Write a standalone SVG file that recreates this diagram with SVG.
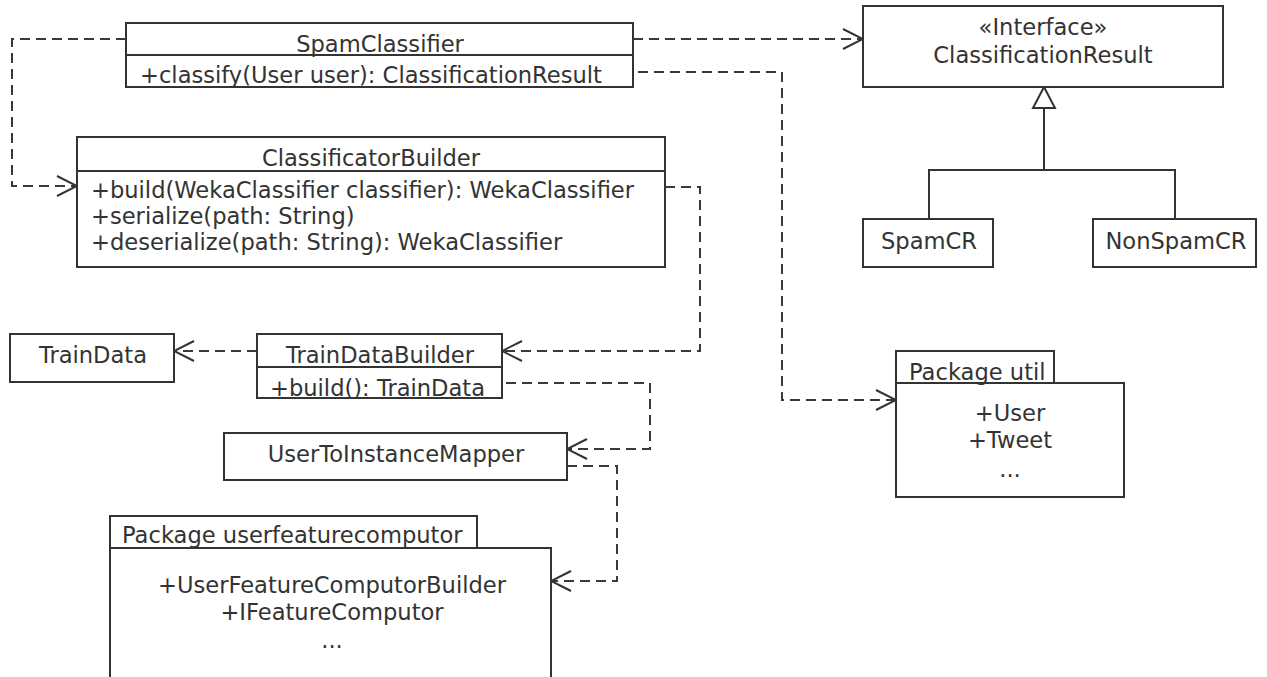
<svg xmlns="http://www.w3.org/2000/svg" width="1267" height="677" viewBox="0 0 1267 677">
  <style>
    .box { fill: #ffffff; stroke: #333333; stroke-width: 2; }
    .sep { stroke: #333333; stroke-width: 2; fill: none; }
    .dep { fill: none; stroke: #3a3a3a; stroke-width: 2; stroke-dasharray: 10 6; }
    .gen { fill: none; stroke: #333333; stroke-width: 2; }
    text { font-family: "DejaVu Sans", "Liberation Sans", sans-serif; font-size: 22.6px; fill: #333333; }
    .c { text-anchor: middle; }
  </style>
  <defs>
    <marker id="open" markerUnits="userSpaceOnUse" markerWidth="24" markerHeight="24" viewBox="-2 -2 24 24" refX="20" refY="10" orient="auto">
      <path d="M0,0 L20,10 L0,20" fill="none" stroke="#333333" stroke-width="2"/>
    </marker>
  </defs>

  <rect width="1267" height="677" fill="#ffffff"/>

  <!-- connectors -->
  <g id="connectors">
    <path class="dep" d="M126,39 H12 V186 H77" marker-end="url(#open)"/>
    <path class="dep" d="M633,39 H863" marker-end="url(#open)"/>
    <path class="dep" d="M638,72 H782 V400 H896" marker-end="url(#open)"/>
    <path class="dep" d="M665,187 H700 V351 H502" marker-end="url(#open)"/>
    <path class="dep" d="M257,351 H174" marker-end="url(#open)"/>
    <path class="dep" d="M506,383 H650 V449 H567" marker-end="url(#open)"/>
    <path class="dep" d="M567,466 H617 V581 H551" marker-end="url(#open)"/>
    <path class="gen" d="M929,219 V170 H1175 V219 M1044,170 V108"/>
    <polygon points="1044,87 1033,108 1055,108" fill="#ffffff" stroke="#333333" stroke-width="2"/>
  </g>

  <g id="SpamClassifier">
    <rect class="box" x="126" y="23" width="507" height="64"/>
    <line class="sep" x1="126" y1="55" x2="633" y2="55"/>
    <text class="c" x="380" y="52">SpamClassifier</text>
    <text x="140" y="83">+classify(User user): ClassificationResult</text>
  </g>

  <g id="ClassificationResult">
    <rect class="box" x="863" y="6" width="360" height="81"/>
    <text class="c" x="1043" y="35">«Interface»</text>
    <text class="c" x="1043" y="63">ClassificationResult</text>
  </g>

  <g id="SpamCR">
    <rect class="box" x="863" y="219" width="130" height="48"/>
    <text class="c" x="929" y="249">SpamCR</text>
  </g>

  <g id="NonSpamCR">
    <rect class="box" x="1093" y="219" width="163" height="48"/>
    <text class="c" x="1176" y="249">NonSpamCR</text>
  </g>

  <g id="ClassificatorBuilder">
    <rect class="box" x="77" y="137" width="588" height="130"/>
    <line class="sep" x1="77" y1="171" x2="665" y2="171"/>
    <text class="c" x="371" y="166">ClassificatorBuilder</text>
    <text x="91" y="198">+build(WekaClassifier classifier): WekaClassifier</text>
    <text x="91" y="224">+serialize(path: String)</text>
    <text x="91" y="250">+deserialize(path: String): WekaClassifier</text>
  </g>

  <g id="TrainData">
    <rect class="box" x="10" y="334" width="164" height="48"/>
    <text class="c" x="93" y="363">TrainData</text>
  </g>

  <g id="TrainDataBuilder">
    <rect class="box" x="257" y="334" width="245" height="64"/>
    <line class="sep" x1="257" y1="367" x2="502" y2="367"/>
    <text class="c" x="380" y="363">TrainDataBuilder</text>
    <text x="270" y="396">+build(): TrainData</text>
  </g>

  <g id="UserToInstanceMapper">
    <rect class="box" x="224" y="433" width="343" height="47"/>
    <text class="c" x="396" y="462">UserToInstanceMapper</text>
  </g>

  <g id="PackageUtil">
    <rect class="box" x="896" y="351" width="158" height="32"/>
    <rect class="box" x="896" y="383" width="228" height="114"/>
    <text x="909" y="380">Package util</text>
    <text class="c" x="1010" y="421">+User</text>
    <text class="c" x="1010" y="448">+Tweet</text>
    <text class="c" x="1010" y="477">...</text>
  </g>

  <g id="PackageUserfeaturecomputor">
    <rect class="box" x="110" y="516" width="367" height="32"/>
    <rect class="box" x="110" y="548" width="441" height="140"/>
    <text x="122" y="543">Package userfeaturecomputor</text>
    <text class="c" x="332" y="593">+UserFeatureComputorBuilder</text>
    <text class="c" x="332" y="620">+IFeatureComputor</text>
    <text class="c" x="332" y="648">...</text>
  </g>
</svg>
